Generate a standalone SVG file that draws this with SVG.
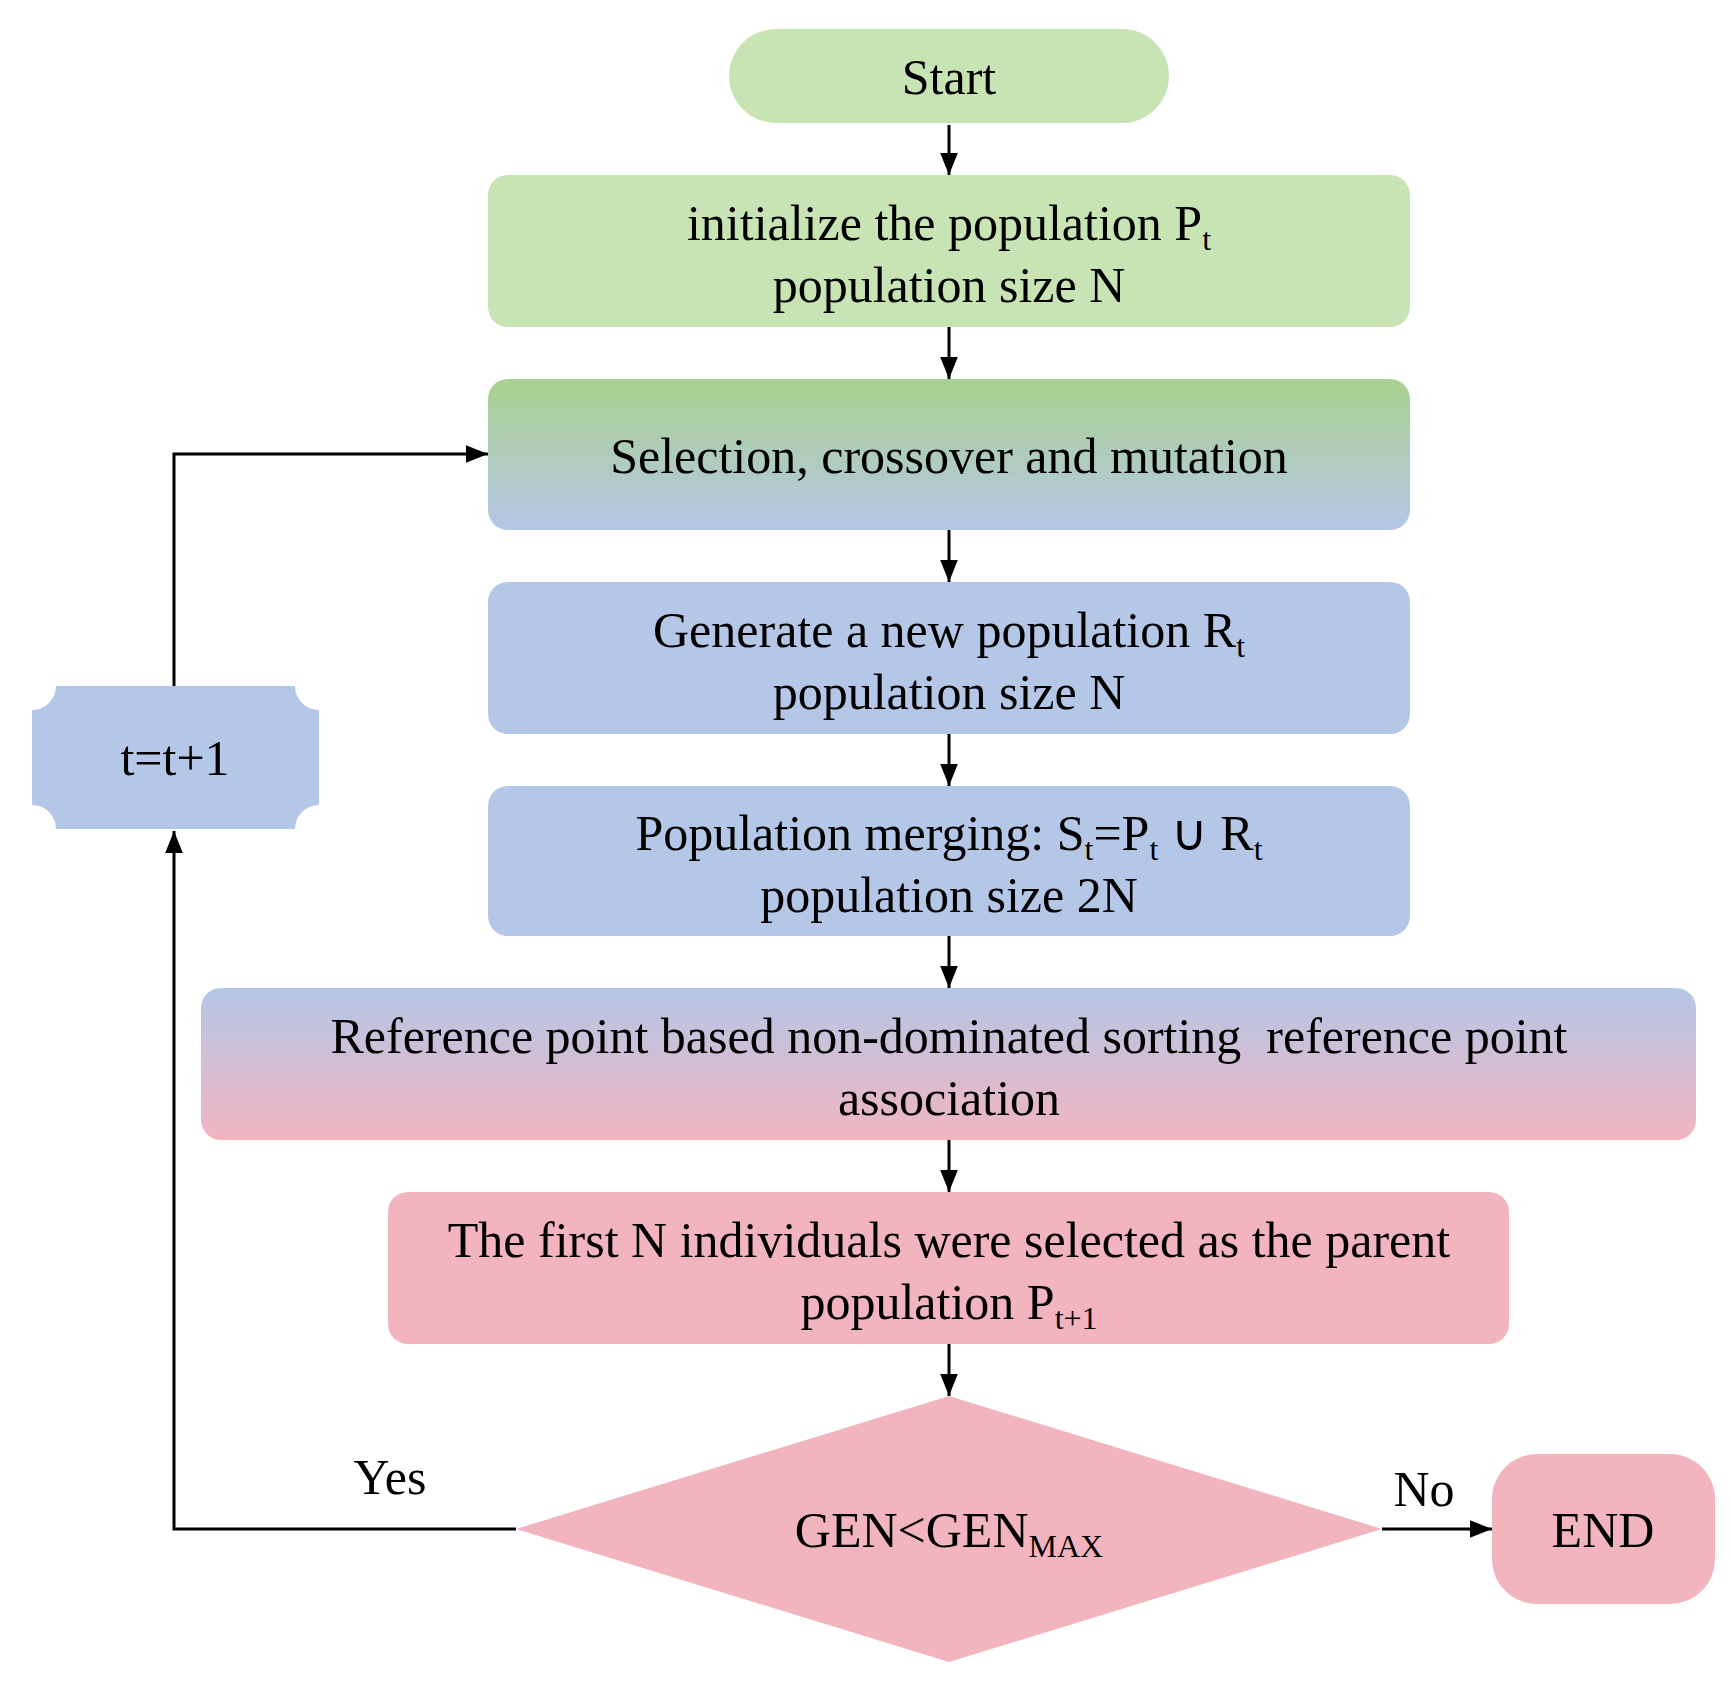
<svg xmlns="http://www.w3.org/2000/svg" width="1731" height="1684" viewBox="0 0 1731 1684">
<style>
text{font-family:"Liberation Serif","Times New Roman",serif;font-size:50px;fill:#000;text-anchor:middle}
.s{font-size:32px}
.c{stroke:#000;stroke-width:3;fill:none}
</style>
<defs>
<marker id="ah" viewBox="0 0 10 10" refX="10" refY="5" markerWidth="22" markerHeight="22" markerUnits="userSpaceOnUse" orient="auto"><path d="M0,1L10,5L0,9z" fill="#000"/></marker>
<linearGradient id="g1" x1="0" y1="0" x2="0" y2="1"><stop offset="0" stop-color="#a9d18e"/><stop offset="1" stop-color="#b4c7e7"/></linearGradient>
<linearGradient id="g2" x1="0" y1="0" x2="0" y2="1"><stop offset="0" stop-color="#b4c7e7"/><stop offset="1" stop-color="#f2b5c0"/></linearGradient>
</defs>
<g id="start"><rect x="729" y="29" width="440" height="94" rx="47" fill="#c9e4b4"/><text x="949" y="94">Start</text></g>
<g id="init"><rect x="488" y="175" width="922" height="152" rx="20" fill="#c9e4b4"/><text x="949" y="240">initialize the population P<tspan class="s" dy="10">t</tspan></text><text x="949" y="302">population size N</text></g>
<g id="select"><rect x="488" y="379" width="922" height="151" rx="20" fill="url(#g1)"/><text x="949" y="473">Selection, crossover and mutation</text></g>
<g id="generate"><rect x="488" y="582" width="922" height="152" rx="20" fill="#b4c7e7"/><text x="949" y="647">Generate a new population R<tspan class="s" dy="10">t</tspan></text><text x="949" y="709">population size N</text></g>
<g id="merge"><rect x="488" y="786" width="922" height="150" rx="20" fill="#b4c7e7"/><text x="949" y="850">Population merging: S<tspan class="s" dy="10">t</tspan><tspan dy="-10">=P</tspan><tspan class="s" dy="10">t</tspan><tspan dy="-10"> ∪ R</tspan><tspan class="s" dy="10">t</tspan></text><text x="949" y="912">population size 2N</text></g>
<g id="reference"><rect x="201" y="988" width="1495" height="152" rx="20" fill="url(#g2)"/><text x="949" y="1053" xml:space="preserve">Reference point based non-dominated sorting  reference point</text><text x="949" y="1115">association</text></g>
<g id="firstn"><rect x="388" y="1192" width="1121" height="152" rx="20" fill="#f2b5c0"/><text x="949" y="1257">The first N individuals were selected as the parent</text><text x="949" y="1319">population P<tspan class="s" dy="10">t+1</tspan></text></g>
<g id="decision"><path d="M949,1396L1382,1529L949,1662L516,1529z" fill="#f2b5c0"/><text x="949" y="1547">GEN&lt;GEN<tspan class="s" dy="10">MAX</tspan></text></g>
<g id="end"><rect x="1492" y="1454" width="223" height="150" rx="45" fill="#f2b5c0"/><text x="1603" y="1547">END</text></g>
<g id="incr"><path d="M56,686H295A24,24 0 0 0 319,710V805A24,24 0 0 0 295,829H56A24,24 0 0 0 32,805V710A24,24 0 0 0 56,686z" fill="#b4c7e7"/><text x="175" y="775">t=t+1</text></g>
<g id="connectors">
<path class="c" marker-end="url(#ah)" d="M949,125V175"/>
<path class="c" marker-end="url(#ah)" d="M949,327V379"/>
<path class="c" marker-end="url(#ah)" d="M949,530V582"/>
<path class="c" marker-end="url(#ah)" d="M949,734V786"/>
<path class="c" marker-end="url(#ah)" d="M949,936V988"/>
<path class="c" marker-end="url(#ah)" d="M949,1140V1192"/>
<path class="c" marker-end="url(#ah)" d="M949,1344V1396"/>
<path class="c" marker-end="url(#ah)" d="M1382,1529H1492"/>
<path class="c" marker-end="url(#ah)" d="M516,1529H174V831"/>
<path class="c" marker-end="url(#ah)" d="M174,686V454H488"/>
<text x="390" y="1494">Yes</text>
<text x="1424" y="1506">No</text>
</g>
</svg>
